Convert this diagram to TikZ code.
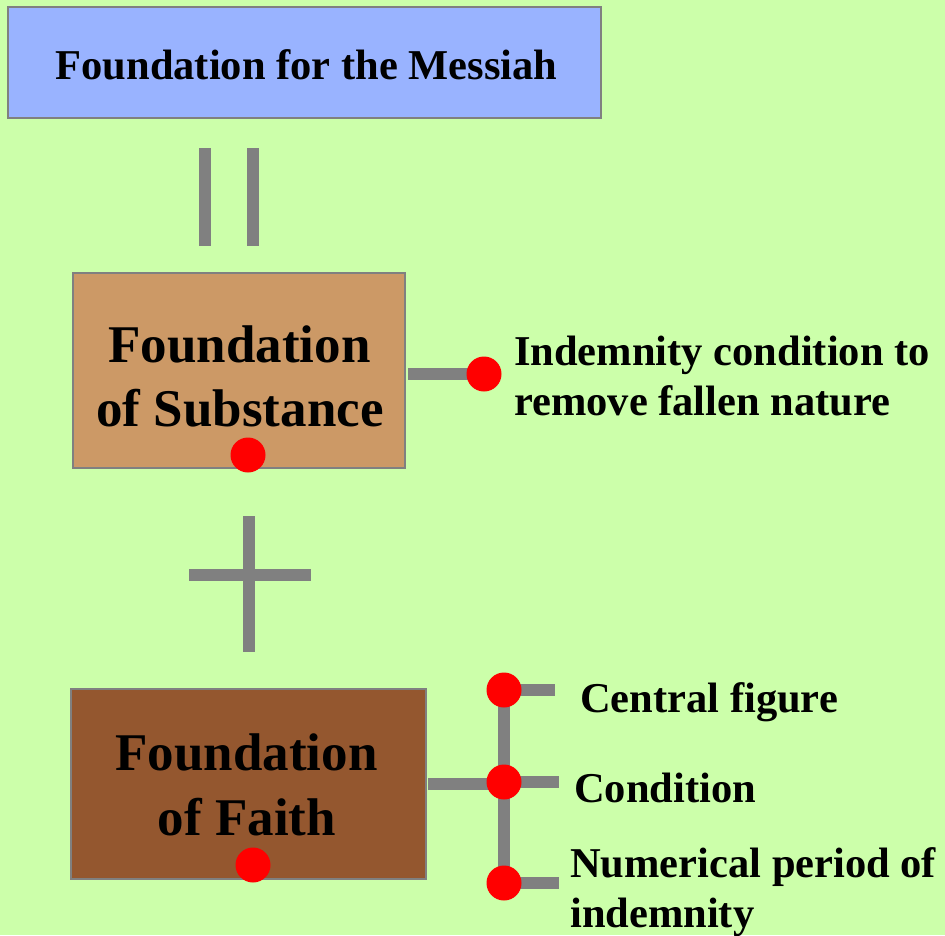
\documentclass[tikz,border=0pt]{standalone}
\usepackage{fontspec}
\setmainfont{Liberation Serif}
\definecolor{bgc}{RGB}{204,255,170}
\definecolor{topc}{RGB}{153,179,255}
\definecolor{subc}{RGB}{204,153,102}
\definecolor{faithc}{RGB}{148,87,47}
\definecolor{linec}{RGB}{128,128,128}
\definecolor{dotc}{RGB}{255,0,0}
\tikzset{
  boxshape/.style={draw=linec, line width=1.2pt, rectangle, inner sep=0pt},
  bigtext/.style={inner sep=0pt, anchor=base, font=\fontsize{53}{64}\selectfont\bfseries},
  labeltext/.style={inner sep=0pt, anchor=base west, font=\fontsize{42.5}{50}\selectfont\bfseries},
  titletext/.style={inner sep=0pt, anchor=base, font=\fontsize{42.5}{50}\selectfont\bfseries},
  bar/.style={draw=linec, line width=12pt, line cap=butt},
  reddot/.style={circle, fill=dotc, inner sep=0pt, minimum size=35pt},
}
\begin{document}
\begin{tikzpicture}[x=1pt,y=-1pt]
\fill[bgc] (0,0) rectangle (945,935);
\useasboundingbox (0,0) rectangle (945,935);

% boxes
\node[boxshape, fill=topc, minimum width=593pt, minimum height=111pt] (top) at (304.5,62.5) {};
\node[titletext] (toptext) at (306.5,79) {Foundation for the Messiah};

\node[boxshape, fill=subc, minimum width=332pt, minimum height=195pt] (subst) at (239,370.5) {};
\node[bigtext] (subst1) at (239.5,362) {Foundation};
\node[bigtext] (subst2) at (240,426) {of Substance};

\node[boxshape, fill=faithc, minimum width=355pt, minimum height=190pt] (faith) at (248.5,784) {};
\node[bigtext] (faith1) at (246.5,770) {Foundation};
\node[bigtext] (faith2) at (247,835) {of Faith};

% equals sign
\draw[bar] (205,148) -- (205,246);
\draw[bar] (253,148) -- (253,246);

% plus sign
\draw[bar] (249,516) -- (249,652);
\draw[bar] (189,574.5) -- (311,574.5);

% substance connector
\coordinate (sA) at (408,374);
\coordinate (cA) at (484,374);
\draw[bar] (sA) -- (cA);
\node[reddot] (dA) at (cA) {};

% faith connectors
\coordinate (fA) at (428,784);
\coordinate (jM) at (504,784);
\coordinate (j1) at (504,690);
\coordinate (j2) at (504,782);
\coordinate (j3) at (504,883);
\coordinate (e1) at (555,690);
\coordinate (e2) at (559,782);
\coordinate (e3) at (559,883);
\draw[bar] (fA) -- (jM);
\draw[bar] (j1) -- (j3);
\draw[bar] (j1) -- (e1);
\draw[bar] (j2) -- (e2);
\draw[bar] (j3) -- (e3);
\node[reddot] (d1) at (j1) {};
\node[reddot] (d2) at (j2) {};
\node[reddot] (d3) at (j3) {};

% dots on boxes
\node[reddot] (dS) at (248,455) {};
\node[reddot] (dF) at (253,865) {};

% labels
\node[labeltext] (l1a) at (514,365) {Indemnity condition to};
\node[labeltext] (l1b) at (514,415) {remove fallen nature};
\node[labeltext] (l2) at (580,712) {Central figure};
\node[labeltext] (l3) at (574,802) {Condition};
\node[labeltext] (l4a) at (570,877) {Numerical period of};
\node[labeltext] (l4b) at (570,927) {indemnity};
\end{tikzpicture}
\end{document}
